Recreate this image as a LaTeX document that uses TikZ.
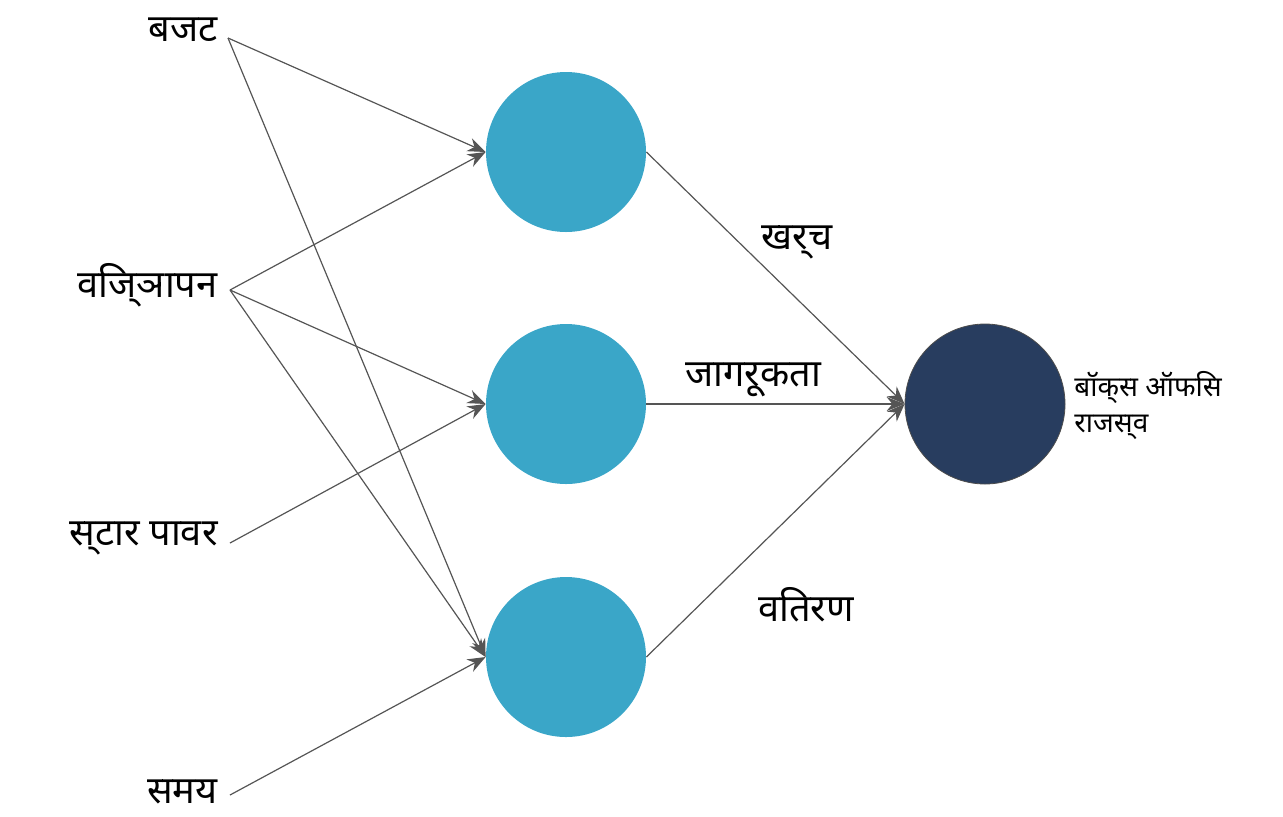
\documentclass[tikz,border=0pt]{standalone}
\usepackage{fontspec}
\usetikzlibrary{arrows.meta}
\setmainfont{Noto Sans}
\definecolor{hid}{HTML}{3AA6C8}
\definecolor{outc}{HTML}{283D5F}
\definecolor{edge}{HTML}{555555}
\begin{document}
\begin{tikzpicture}[x=0.5pt,y=-0.5pt,
  neuron/.style={circle,minimum size=80pt,inner sep=0pt,fill=hid},
  outn/.style={circle,minimum size=80pt,inner sep=0pt,fill=outc,draw=black!70,line width=0.4pt},
  lab/.style={font=\fontsize{19}{22}\selectfont,inner sep=0pt},
  elab/.style={font=\fontsize{19}{22}\selectfont,inner sep=0pt},
  conn/.style={draw=edge,line width=0.6pt,-{Stealth[length=9pt,width=7pt]}}]
\useasboundingbox (0,0) rectangle (1283,816);
\node[neuron] (h1) at (566,152) {};
\node[neuron] (h2) at (566,404) {};
\node[neuron] (h3) at (566,657) {};
\node[outn] (o) at (985,404) {};
\coordinate (a) at (228,38);
\coordinate (b) at (230,290);
\coordinate (c) at (230,543);
\coordinate (d) at (230,795);
\node[lab,anchor=east] (ta) at (218,30) {बजट};
\node[lab,anchor=east] (tb) at (218,285) {विज्ञापन};
\node[lab,anchor=east] (tc) at (218,538) {स्टार पावर};
\node[lab,anchor=east] (td) at (218,792) {समय};
\draw[conn] (a) -- (h1.west);
\draw[conn] (a) -- (h3.west);
\draw[conn] (b) -- (h1.west);
\draw[conn] (b) -- (h2.west);
\draw[conn] (b) -- (h3.west);
\draw[conn] (c) -- (h2.west);
\draw[conn] (d) -- (h3.west);
\draw[conn] (h1.east) -- (o.west);
\draw[conn] (h2.east) -- (o.west);
\draw[conn] (h3.east) -- (o.west);
\node[elab] (l1) at (797,242) {खर्च};
\node[elab] (l2) at (753,380) {जागरूकता};
\node[elab] (l3) at (806,605) {वितरण};
\node[font=\fontsize{14}{18}\selectfont,align=left,anchor=west,inner sep=0pt] (ot) at (1074,405) {बॉक्स ऑफिस\\राजस्व};
\end{tikzpicture}
\end{document}
